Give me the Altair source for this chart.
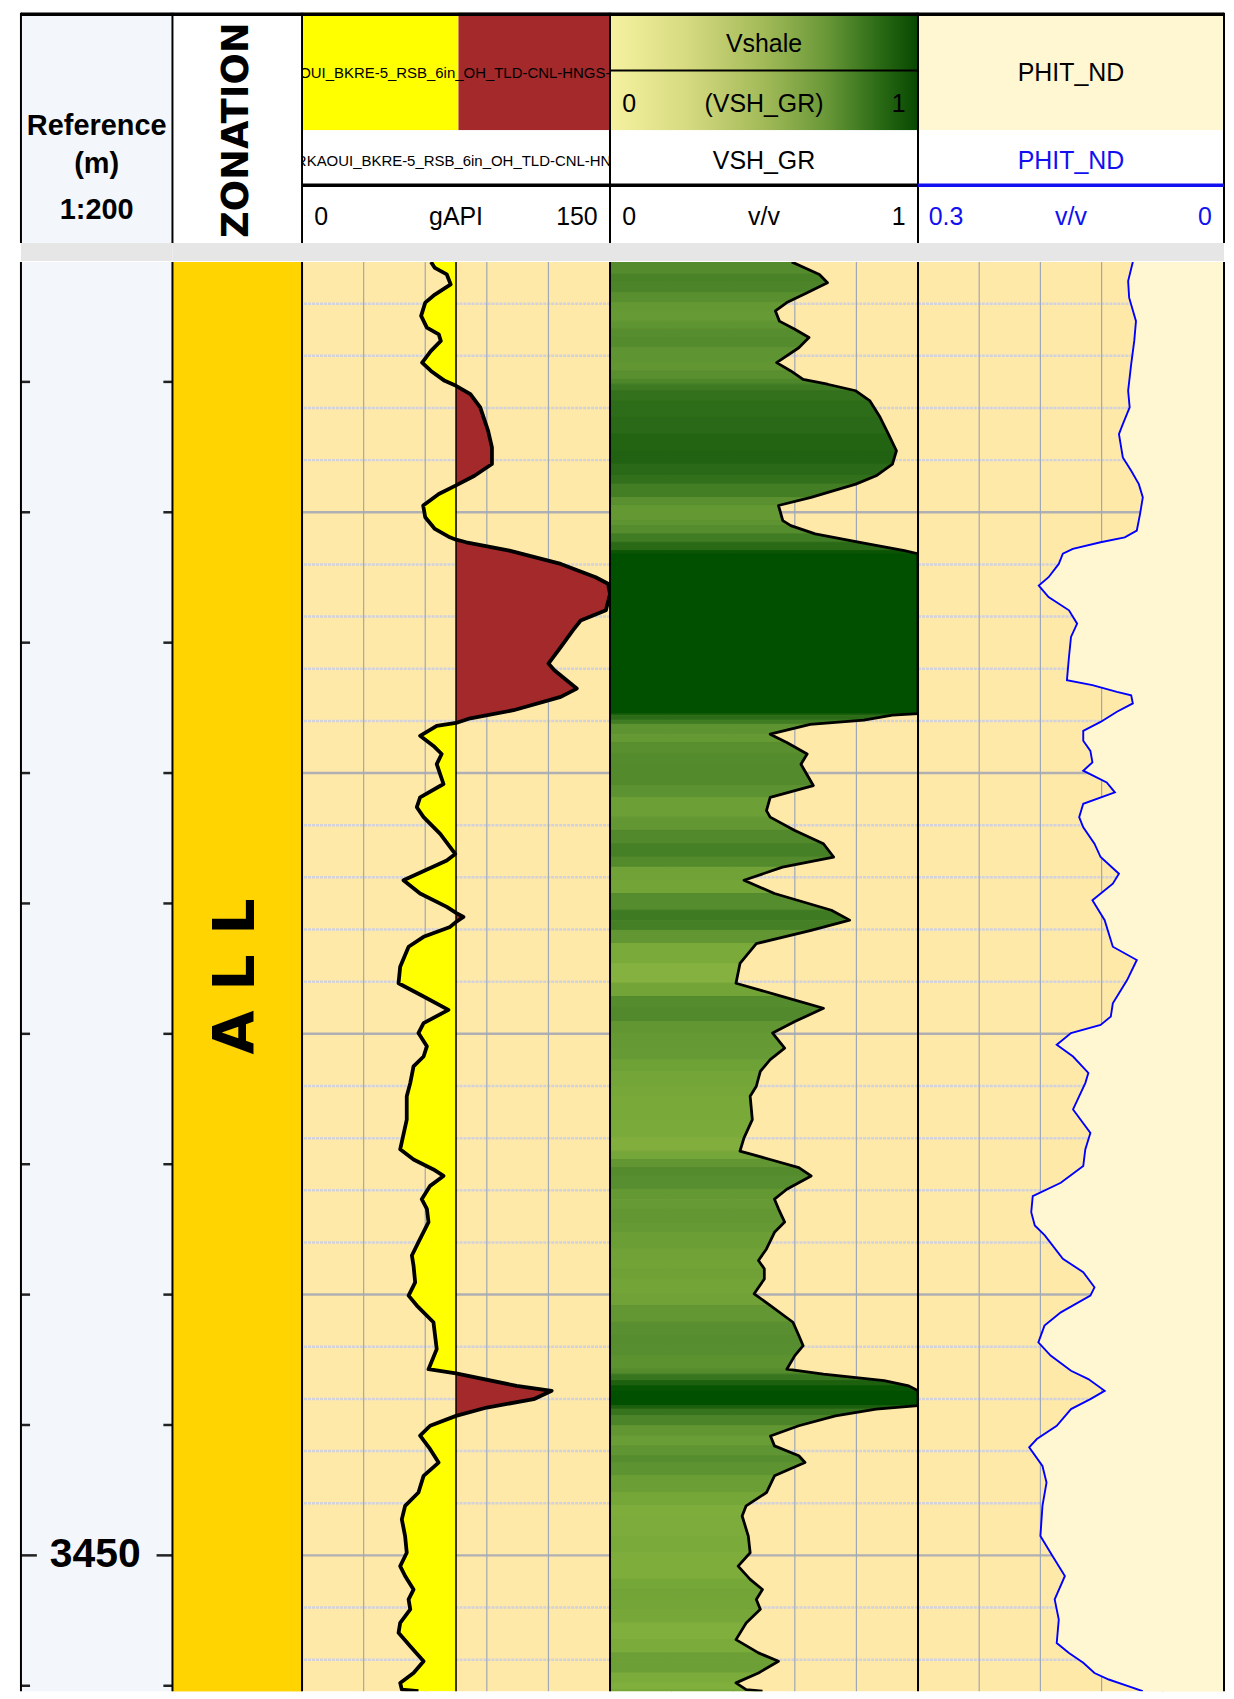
import altair as alt
import pandas as pd
import numpy as np

# ---------------------------------------------------------------- data
DEPTH_TOP = 3400.40
DEPTH_BOT = 3455.21
GR_CUTOFF = 75

GR_DEPTH = [3400.40, 3400.63, 3400.88, 3401.26, 3401.65, 3401.96, 3402.47, 3402.92, 3403.18, 3403.43,
            3403.81, 3404.26, 3404.58, 3404.96, 3405.15, 3405.47, 3405.98, 3406.87, 3407.51, 3408.15,
            3408.60, 3408.97, 3409.30, 3409.74, 3410.19, 3410.64, 3410.96, 3411.05, 3411.15, 3411.47,
            3411.98, 3412.49, 3412.74, 3413.13, 3413.76, 3414.15, 3414.53, 3415.17, 3415.80, 3416.06,
            3416.76, 3417.08, 3417.59, 3417.90, 3418.08, 3418.19, 3418.57, 3418.96, 3419.27, 3419.66,
            3420.42, 3420.93, 3421.31, 3421.69, 3422.33, 3423.10, 3423.35, 3424.11, 3424.62, 3425.13,
            3425.36, 3425.52, 3425.71, 3425.90, 3426.28, 3426.66, 3427.43, 3428.06, 3428.57, 3429.08,
            3429.59, 3429.97, 3430.48, 3430.87, 3431.25, 3431.89, 3432.39, 3433.29, 3434.43, 3434.82,
            3435.20, 3435.45, 3435.83, 3436.34, 3436.71, 3437.22, 3437.99, 3438.50, 3438.89, 3439.53,
            3440.04, 3440.42, 3441.06, 3442.09, 3442.86, 3443.02, 3443.50, 3443.69, 3444.01, 3444.33,
            3444.65, 3445.03, 3445.41, 3445.93, 3446.44, 3446.95, 3447.59, 3448.10, 3448.62, 3449.26,
            3449.90, 3450.41, 3450.79, 3451.31, 3451.69, 3452.07, 3452.59, 3452.97, 3453.48, 3454.06,
            3454.51, 3454.89, 3455.15, 3455.21]
GR_VALUE = [62.8, 64.7, 70.5, 72.4, 64.7, 60.0, 58.0, 60.8, 66.6, 67.6,
            62.8, 58.5, 62.8, 69.5, 75.0, 82.0, 86.8, 90.6, 92.5, 92.5,
            84.0, 75.0, 66.6, 59.0, 60.0, 64.7, 72.0, 75.0, 80.0, 101.0,
            126.0, 143.0, 149.0, 150.0, 148.0, 135.7, 131.9, 126.0, 120.0, 122.9,
            133.8, 126.0, 103.0, 82.0, 75.0, 65.6, 57.5, 64.0, 68.0, 65.6,
            68.9, 57.5, 55.9, 59.2, 67.3, 74.6, 70.5, 49.4, 57.5, 70.5,
            75.0, 78.6, 75.0, 72.1, 59.2, 51.9, 47.8, 47.0, 59.2, 71.3,
            59.2, 56.7, 60.8, 59.2, 54.3, 52.7, 51.0, 51.0, 47.8, 54.3,
            64.0, 68.9, 62.4, 58.3, 60.8, 61.6, 56.7, 53.5, 54.3, 55.1,
            51.9, 55.9, 64.0, 65.6, 61.6, 75.0, 104.5, 121.6, 112.8, 90.0,
            75.0, 62.4, 57.5, 62.4, 66.5, 59.2, 56.7, 50.2, 48.6, 50.2,
            51.0, 47.8, 50.2, 54.3, 51.9, 52.7, 47.8, 47.0, 52.7, 59.2,
            54.3, 47.8, 48.6, 56.7]

VSH_DEPTH = [3400.40, 3400.88, 3401.20, 3401.58, 3401.96, 3402.28, 3402.67, 3402.98, 3403.30, 3403.69,
             3404.26, 3404.58, 3404.90, 3405.09, 3405.34, 3405.73, 3406.36, 3407.00, 3407.64, 3408.15,
             3408.60, 3408.92, 3409.43, 3409.74, 3410.32, 3410.51, 3410.83, 3411.15, 3411.47, 3411.59,
             3417.72, 3417.78, 3417.97, 3418.13, 3418.51, 3418.83, 3419.27, 3419.66, 3420.48, 3420.93,
             3421.44, 3421.69, 3422.20, 3422.71, 3423.22, 3423.61, 3424.11, 3424.62, 3425.26, 3425.64,
             3426.03, 3426.54, 3427.30, 3428.06, 3428.57, 3429.02, 3429.53, 3429.97, 3430.55, 3430.99,
             3431.44, 3432.01, 3432.39, 3433.29, 3433.99, 3434.50, 3434.82, 3435.13, 3435.45, 3435.96,
             3436.34, 3436.71, 3437.22, 3437.61, 3438.25, 3438.69, 3439.01, 3439.40, 3439.97, 3440.42,
             3441.06, 3441.57, 3441.96, 3442.34, 3442.86, 3443.05, 3443.30, 3443.50, 3443.69, 3444.26,
             3444.39, 3444.65, 3445.03, 3445.42, 3445.80, 3446.18, 3446.44, 3446.95, 3447.59, 3448.10,
             3448.49, 3449.26, 3449.90, 3450.41, 3450.92, 3451.31, 3451.69, 3452.07, 3452.59, 3453.23,
             3453.74, 3454.06, 3454.51, 3454.89, 3455.15, 3455.21]
VSH_VALUE = [0.59, 0.68, 0.706, 0.64, 0.574, 0.537, 0.55, 0.60, 0.646, 0.613,
             0.541, 0.587, 0.627, 0.706, 0.798, 0.844, 0.877, 0.904, 0.93, 0.917,
             0.864, 0.798, 0.653, 0.547, 0.561, 0.587, 0.666, 0.811, 0.956, 1.0,
             1.0, 0.917, 0.824, 0.65, 0.52, 0.574, 0.64, 0.62, 0.66, 0.52,
             0.508, 0.52, 0.60, 0.693, 0.726, 0.56, 0.435, 0.534, 0.719, 0.778,
             0.653, 0.475, 0.422, 0.409, 0.561, 0.693, 0.60, 0.528, 0.567, 0.52,
             0.488, 0.475, 0.455, 0.462, 0.435, 0.422, 0.52, 0.613, 0.653, 0.574,
             0.534, 0.547, 0.567, 0.534, 0.508, 0.482, 0.501, 0.501, 0.468, 0.521,
             0.594, 0.613, 0.627, 0.60, 0.574, 0.693, 0.89, 0.97, 1.0, 1.0,
             0.864, 0.732, 0.613, 0.521, 0.534, 0.613, 0.633, 0.534, 0.508, 0.442,
             0.429, 0.449, 0.455, 0.416, 0.455, 0.495, 0.475, 0.488, 0.442, 0.409,
             0.482, 0.547, 0.482, 0.409, 0.442, 0.495]

PHIT_DEPTH = [3400.40, 3401.13, 3401.77, 3402.67, 3403.43, 3404.32, 3405.34, 3405.98, 3406.62, 3407.00,
              3407.90, 3408.41, 3408.92, 3409.43, 3410.06, 3410.70, 3410.96, 3411.15, 3411.40, 3411.59,
              3411.98, 3412.49, 3412.81, 3413.25, 3413.76, 3414.27, 3414.78, 3415.55, 3416.44, 3416.63,
              3416.89, 3417.02, 3417.33, 3417.65, 3418.04, 3418.38, 3418.76, 3419.15, 3419.59, 3419.91,
              3420.36, 3420.74, 3421.18, 3421.69, 3422.08, 3422.71, 3423.22, 3423.86, 3424.24, 3424.88,
              3425.64, 3426.66, 3427.17, 3427.94, 3428.83, 3429.34, 3429.66, 3429.97, 3430.42, 3430.87,
              3431.50, 3431.89, 3432.90, 3433.80, 3434.43, 3435.07, 3435.71, 3436.22, 3436.84, 3437.35,
              3437.73, 3438.63, 3439.14, 3439.72, 3440.04, 3440.68, 3441.19, 3441.83, 3442.34, 3442.92,
              3443.24, 3443.69, 3444.01, 3444.39, 3445.03, 3445.54, 3445.86, 3446.57, 3447.21, 3448.10,
              3449.26, 3450.03, 3450.79, 3451.69, 3452.46, 3453.36, 3453.74, 3454.12, 3454.51, 3454.76,
              3455.02, 3455.21]
PHIT_VALUE = [0.0894, 0.094, 0.093, 0.0863, 0.088, 0.091, 0.094, 0.0925, 0.0992, 0.103,
              0.0992, 0.091, 0.0835, 0.0796, 0.0823, 0.0855, 0.0973, 0.121, 0.1482, 0.158,
              0.162, 0.172, 0.1816, 0.172, 0.152, 0.144, 0.150, 0.152, 0.154, 0.129,
              0.105, 0.091, 0.0894, 0.105, 0.121, 0.138, 0.138, 0.131, 0.129, 0.138,
              0.115, 0.107, 0.138, 0.142, 0.138, 0.127, 0.121, 0.103, 0.109, 0.129,
              0.117, 0.109, 0.0855, 0.095, 0.109, 0.111, 0.121, 0.150, 0.164, 0.148,
              0.133, 0.136, 0.148, 0.131, 0.136, 0.138, 0.160, 0.1875, 0.189, 0.1855,
              0.1757, 0.158, 0.138, 0.127, 0.131, 0.160, 0.176, 0.182, 0.170, 0.150,
              0.133, 0.117, 0.131, 0.150, 0.164, 0.1835, 0.191, 0.178, 0.174, 0.178,
              0.180, 0.168, 0.156, 0.166, 0.162, 0.164, 0.152, 0.138, 0.127, 0.113,
              0.0933, 0.0796]

ZONE_NAME = ["ALL"]
ZONE_TOP = [3400.40]
ZONE_BASE = [3455.21]

DEPTH_TICKS = [3405, 3410, 3415, 3420, 3425, 3430, 3435, 3440, 3445, 3450, 3455]
DEPTH_LABELS = [3450]
GRID_MINOR = [3402, 3404, 3406, 3408, 3412, 3414, 3416, 3418, 3422, 3424, 3426, 3428,
              3432, 3434, 3436, 3438, 3442, 3444, 3446, 3448, 3452, 3454]
GRID_MAJOR = [3410, 3420, 3430, 3440, 3450]
GR_GRID = [30, 60, 90, 120]
VSH_GRID = [0.2, 0.4, 0.6, 0.8]
PHIT_GRID = [0.24, 0.18, 0.12, 0.06]

# ---------------------------------------------------------------- styling
FN = "Liberation Sans, Arial, sans-serif"
FB = "DejaVu Sans, Verdana, sans-serif"
TAN = "#FFE9A8"
CREAM = "#FFF7D2"
DEPTH_BG = "#F3F7FB"
GOLD = "#FFD400"
BAND = "#E6E6E6"
BLUE = "#1010F0"

W_DEPTH, W_ZONE, W_GR, W_VSH, W_PHIT = 152, 130, 309, 309, 307
HH = 249   # header height
BH = 1434  # body height

HX = alt.Scale(domain=[0, 1], nice=False, zero=False)
HY = alt.Scale(domain=[0, HH], reverse=True, nice=False, zero=False)
YS = alt.Scale(domain=[DEPTH_TOP, DEPTH_BOT], reverse=True, nice=False, zero=False)


# ---------------------------------------------------------------- header helpers
def h_rects(rows):
    df = pd.DataFrame(rows, columns=["x", "x2", "y", "y2", "fill"])
    return alt.Chart(df).mark_rect().encode(
        x=alt.X("x:Q", scale=HX, axis=None), x2="x2:Q",
        y=alt.Y("y:Q", scale=HY, axis=None), y2="y2:Q",
        color=alt.Color("fill:N", scale=None))


def h_rules(rows):
    df = pd.DataFrame(rows, columns=["x", "x2", "y", "y2", "col", "w"])
    return alt.Chart(df).mark_rule().encode(
        x=alt.X("x:Q", scale=HX, axis=None), x2="x2:Q",
        y=alt.Y("y:Q", scale=HY, axis=None), y2="y2:Q",
        color=alt.Color("col:N", scale=None),
        size=alt.Size("w:Q", scale=None, legend=None))


def h_text(rows, align="center", size=25, color="black", weight="normal", font=FN, angle=0):
    df = pd.DataFrame(rows, columns=["x", "y", "t"])
    return alt.Chart(df).mark_text(align=align, baseline="middle", fontSize=size, color=color,
                                   fontWeight=weight, font=font, angle=angle, clip=True).encode(
        x=alt.X("x:Q", scale=HX, axis=None), y=alt.Y("y:Q", scale=HY, axis=None), text="t:N")


def frame_rules(right=False, mid_line=None):
    rows = [[0, 1, 1.5, 1.5, "black", 3.5],
            [0, 0, 0, 231, "black", 2]]
    if right:
        rows.append([1, 1, 0, 231, "black", 2])
    if mid_line is not None:
        rows.append([0, 1, mid_line, mid_line, "black", 2])
    return rows


band = [0, 1, 231, HH, BAND]

# depth header
hdr_depth = alt.layer(
    h_rects([[0, 1, 0, 231, DEPTH_BG], band]),
    h_text([[0.5, 114, "Reference"], [0.5, 152, "(m)"], [0.5, 198, "1:200"]], size=29, weight="bold"),
    h_rules(frame_rules()),
).properties(width=W_DEPTH, height=HH)

# zonation header
hdr_zone = alt.layer(
    h_rects([[0, 1, 0, 231, "white"], band]),
    h_text([[0.5, 226, "ZONATION"]], align="left", size=37, weight="bold", font=FB, angle=270),
    h_rules(frame_rules()),
).properties(width=W_ZONE, height=HH)

# GR header
hdr_gr = alt.layer(
    h_rects([[0, 0.508, 0, 118, "#FFFF00"], [0.508, 1, 0, 118, "#A3292B"],
             [0, 1, 118, 231, "white"], band]),
    h_text([[0.5, 60, "KAOUI_BKRE-5_RSB_6in_OH_TLD-CNL-HNGS-GR"]], size=15),
    h_text([[-0.02, 149, "RKAOUI_BKRE-5_RSB_6in_OH_TLD-CNL-HNGS-GR"]], align="left", size=15),
    h_text([[0.04, 205, "0"]], align="left"),
    h_text([[0.5, 205, "gAPI"]]),
    h_text([[0.96, 205, "150"]], align="right"),
    h_rules(frame_rules() + [[0, 1, 173, 173, "black", 3.5]]),
).properties(width=W_GR, height=HH)

# VSH header
grad = alt.Gradient(gradient="linear", x1=0, x2=1, y1=0, y2=0, stops=[
    alt.GradientStop(color="#F6F2A0", offset=0.0),
    alt.GradientStop(color="#D6DA80", offset=0.25),
    alt.GradientStop(color="#A2BA58", offset=0.5),
    alt.GradientStop(color="#6A9838", offset=0.7),
    alt.GradientStop(color="#2C6C16", offset=0.87),
    alt.GradientStop(color="#064800", offset=1.0)])
grad_rect = alt.Chart(pd.DataFrame({"x": [0], "x2": [1], "y": [0], "y2": [118]})).mark_rect(fill=grad).encode(
    x=alt.X("x:Q", scale=HX, axis=None), x2="x2:Q",
    y=alt.Y("y:Q", scale=HY, axis=None), y2="y2:Q")
hdr_vsh = alt.layer(
    grad_rect,
    h_rects([[0, 1, 118, 231, "white"], band]),
    h_text([[0.5, 31, "Vshale"], [0.5, 92, "(VSH_GR)"], [0.5, 149, "VSH_GR"], [0.5, 205, "v/v"]]),
    h_text([[0.04, 92, "0"], [0.04, 205, "0"]], align="left"),
    h_text([[0.96, 92, "1"], [0.96, 205, "1"]], align="right"),
    h_rules(frame_rules(mid_line=58) + [[0, 1, 173, 173, "black", 3.5]]),
).properties(width=W_VSH, height=HH)

# PHIT header
hdr_phit = alt.layer(
    h_rects([[0, 1, 0, 118, CREAM], [0, 1, 118, 231, "white"], band]),
    h_text([[0.5, 60, "PHIT_ND"]]),
    h_text([[0.5, 149, "PHIT_ND"], [0.5, 205, "v/v"]], color=BLUE),
    h_text([[0.035, 205, "0.3"]], align="left", color=BLUE),
    h_text([[0.96, 205, "0"]], align="right", color=BLUE),
    h_rules(frame_rules(right=True) + [[0, 1, 173, 173, BLUE, 3.5]]),
).properties(width=W_PHIT, height=HH)


# ---------------------------------------------------------------- body helpers
def y_enc(field="d"):
    return alt.Y(f"{field}:Q", scale=YS, axis=None)


def hgrid():
    minor = alt.Chart(pd.DataFrame({"d": GRID_MINOR})).mark_rule(
        color="#D2D2DC", strokeWidth=2.5, strokeDash=[3, 1]).encode(y=y_enc())
    major = alt.Chart(pd.DataFrame({"d": GRID_MAJOR})).mark_rule(
        color="#B0B0B4", strokeWidth=2.5).encode(y=y_enc())
    return [minor, major]


def vgrid(vals, scale):
    return alt.Chart(pd.DataFrame({"v": vals})).mark_rule(color="#A0A8B6", strokeWidth=1.2).encode(
        x=alt.X("v:Q", scale=scale, axis=None))


def vborder(vals, scale, width=2):
    return alt.Chart(pd.DataFrame({"b": vals})).mark_rule(color="black", strokeWidth=width).encode(
        x=alt.X("b:Q", scale=scale, axis=None))


# depth track
XD = alt.Scale(domain=[0, 1], nice=False, zero=False)
ticks = pd.DataFrame({"d": DEPTH_TICKS})
ticks["l"] = [0.105 if d in DEPTH_LABELS else 0.06 for d in DEPTH_TICKS]
ticks["z"] = 0.0
ticks["r"] = 1 - ticks["l"]
ticks["o"] = 1.0
labels = pd.DataFrame({"d": DEPTH_LABELS, "t": [str(v) for v in DEPTH_LABELS], "x": 0.49})
body_depth = alt.layer(
    alt.Chart(ticks).mark_rule(color="#222", strokeWidth=2.5).encode(
        x=alt.X("z:Q", scale=XD, axis=None), x2="l:Q", y=y_enc()),
    alt.Chart(ticks).mark_rule(color="#222", strokeWidth=2.5).encode(
        x=alt.X("r:Q", scale=XD, axis=None), x2="o:Q", y=y_enc()),
    alt.Chart(labels).mark_text(font=FN, fontSize=41, fontWeight="bold", color="black",
                                baseline="middle").encode(
        x=alt.X("x:Q", scale=XD, axis=None), y=y_enc(), text="t:N"),
    vborder([0], XD),
).properties(width=W_DEPTH, height=BH, view=alt.ViewBackground(fill=DEPTH_BG, strokeWidth=0))

# zonation track
zone = pd.DataFrame({"name": ZONE_NAME, "top": ZONE_TOP, "base": ZONE_BASE})
zone["mid"] = (zone["top"] + zone["base"]) / 2
zone["label"] = [" ".join(list(n)) for n in ZONE_NAME]
zone["x0"] = 0.0
zone["x1"] = 1.0
zone["xc"] = 0.5
body_zone = alt.layer(
    alt.Chart(zone).mark_rect(color=GOLD).encode(
        x=alt.X("x0:Q", scale=XD, axis=None), x2="x1:Q",
        y=alt.Y("top:Q", scale=YS, axis=None), y2="base:Q"),
    alt.Chart(zone).mark_text(font=FB, fontSize=57, fontWeight="bold", color="black",
                              angle=270, baseline="middle").encode(
        x=alt.X("xc:Q", scale=XD, axis=None), y=alt.Y("mid:Q", scale=YS, axis=None), text="label:N"),
    vborder([0], XD),
).properties(width=W_ZONE, height=BH, view=alt.ViewBackground(fill=GOLD, strokeWidth=0))

# GR track
XGR = alt.Scale(domain=[0, 150], nice=False, zero=False)
gr = pd.DataFrame({"d": GR_DEPTH, "v": GR_VALUE})
gr["i"] = np.arange(len(gr))
gr["c"] = GR_CUTOFF
gr["lo"] = np.minimum(gr["v"], GR_CUTOFF)
gr["hi"] = np.maximum(gr["v"], GR_CUTOFF)
body_gr = alt.layer(
    *hgrid(),
    vgrid(GR_GRID, XGR),
    alt.Chart(gr).mark_area(orient="horizontal", color="#FFFF00", clip=True).encode(
        y=y_enc(), x=alt.X("lo:Q", scale=XGR, axis=None, stack=False), x2="c:Q"),
    alt.Chart(gr).mark_area(orient="horizontal", color="#A3292B", clip=True).encode(
        y=y_enc(), x=alt.X("hi:Q", scale=XGR, axis=None, stack=False), x2="c:Q"),
    vborder([GR_CUTOFF], XGR, width=1.5),
    alt.Chart(gr).mark_line(color="black", strokeWidth=3.8, strokeJoin="round", clip=True).encode(
        x=alt.X("v:Q", scale=XGR, axis=None), y=y_enc(), order="i:Q"),
    vborder([0], XGR),
).properties(width=W_GR, height=BH, view=alt.ViewBackground(fill=TAN, strokeWidth=0))

# VSH track
XV = alt.Scale(domain=[0, 1], nice=False, zero=False)
seg_rows = []
for k in range(len(VSH_DEPTH) - 1):
    cval = (VSH_VALUE[k] + VSH_VALUE[k + 1]) / 2
    seg_rows.append({"seg": k, "d": VSH_DEPTH[k], "v": VSH_VALUE[k], "c": cval, "z": 0.0})
    seg_rows.append({"seg": k, "d": VSH_DEPTH[k + 1], "v": VSH_VALUE[k + 1], "c": cval, "z": 0.0})
segs = pd.DataFrame(seg_rows)
vsh = pd.DataFrame({"d": VSH_DEPTH, "v": VSH_VALUE})
vsh["i"] = np.arange(len(vsh))
GSCALE = alt.Scale(domain=[0, 0.3, 0.45, 0.6, 0.75, 0.9, 1.0],
                   range=["#EEEE90", "#A8C850", "#7AAA3A", "#5A9030", "#3E7A22", "#276816", "#005000"])
body_vsh = alt.layer(
    *hgrid(),
    vgrid(VSH_GRID, XV),
    alt.Chart(segs).mark_area(orient="horizontal", strokeWidth=1, clip=True).encode(
        y=y_enc(), x=alt.X("v:Q", scale=XV, axis=None, stack=False), x2="z:Q",
        color=alt.Color("c:Q", scale=GSCALE, legend=None),
        stroke=alt.Stroke("c:Q", scale=GSCALE, legend=None),
        detail="seg:N"),
    alt.Chart(vsh).mark_line(color="black", strokeWidth=2.8, strokeJoin="round", clip=True).encode(
        x=alt.X("v:Q", scale=XV, axis=None), y=y_enc(), order="i:Q"),
    vborder([0], XV),
).properties(width=W_VSH, height=BH, view=alt.ViewBackground(fill=TAN, strokeWidth=0))

# PHIT track
XP = alt.Scale(domain=[0, 0.3], reverse=True, nice=False, zero=False)
ph = pd.DataFrame({"d": PHIT_DEPTH, "v": PHIT_VALUE})
ph["i"] = np.arange(len(ph))
ph["z"] = 0.0
body_phit = alt.layer(
    *hgrid(),
    vgrid(PHIT_GRID, XP),
    alt.Chart(ph).mark_area(orient="horizontal", color=CREAM, clip=True).encode(
        y=y_enc(), x=alt.X("v:Q", scale=XP, axis=None, stack=False), x2="z:Q"),
    alt.Chart(ph).mark_line(color="#0000FF", strokeWidth=1.9, clip=True).encode(
        x=alt.X("v:Q", scale=XP, axis=None), y=y_enc(), order="i:Q"),
    vborder([0.3], XP),
    vborder([0.0], XP),
).properties(width=W_PHIT, height=BH, view=alt.ViewBackground(fill=TAN, strokeWidth=0))

# ---------------------------------------------------------------- assemble
header_row = alt.hconcat(hdr_depth, hdr_zone, hdr_gr, hdr_vsh, hdr_phit, spacing=0, bounds="flush")
body_row = alt.hconcat(body_depth, body_zone, body_gr, body_vsh, body_phit, spacing=0, bounds="flush")

chart = alt.vconcat(header_row, body_row, spacing=0).properties(
    padding={"left": 11, "top": 1, "right": 0, "bottom": 0},
    background="white",
).configure_view(strokeWidth=0)

chart.save("out.html", embed_options={"renderer": "svg", "actions": False})
